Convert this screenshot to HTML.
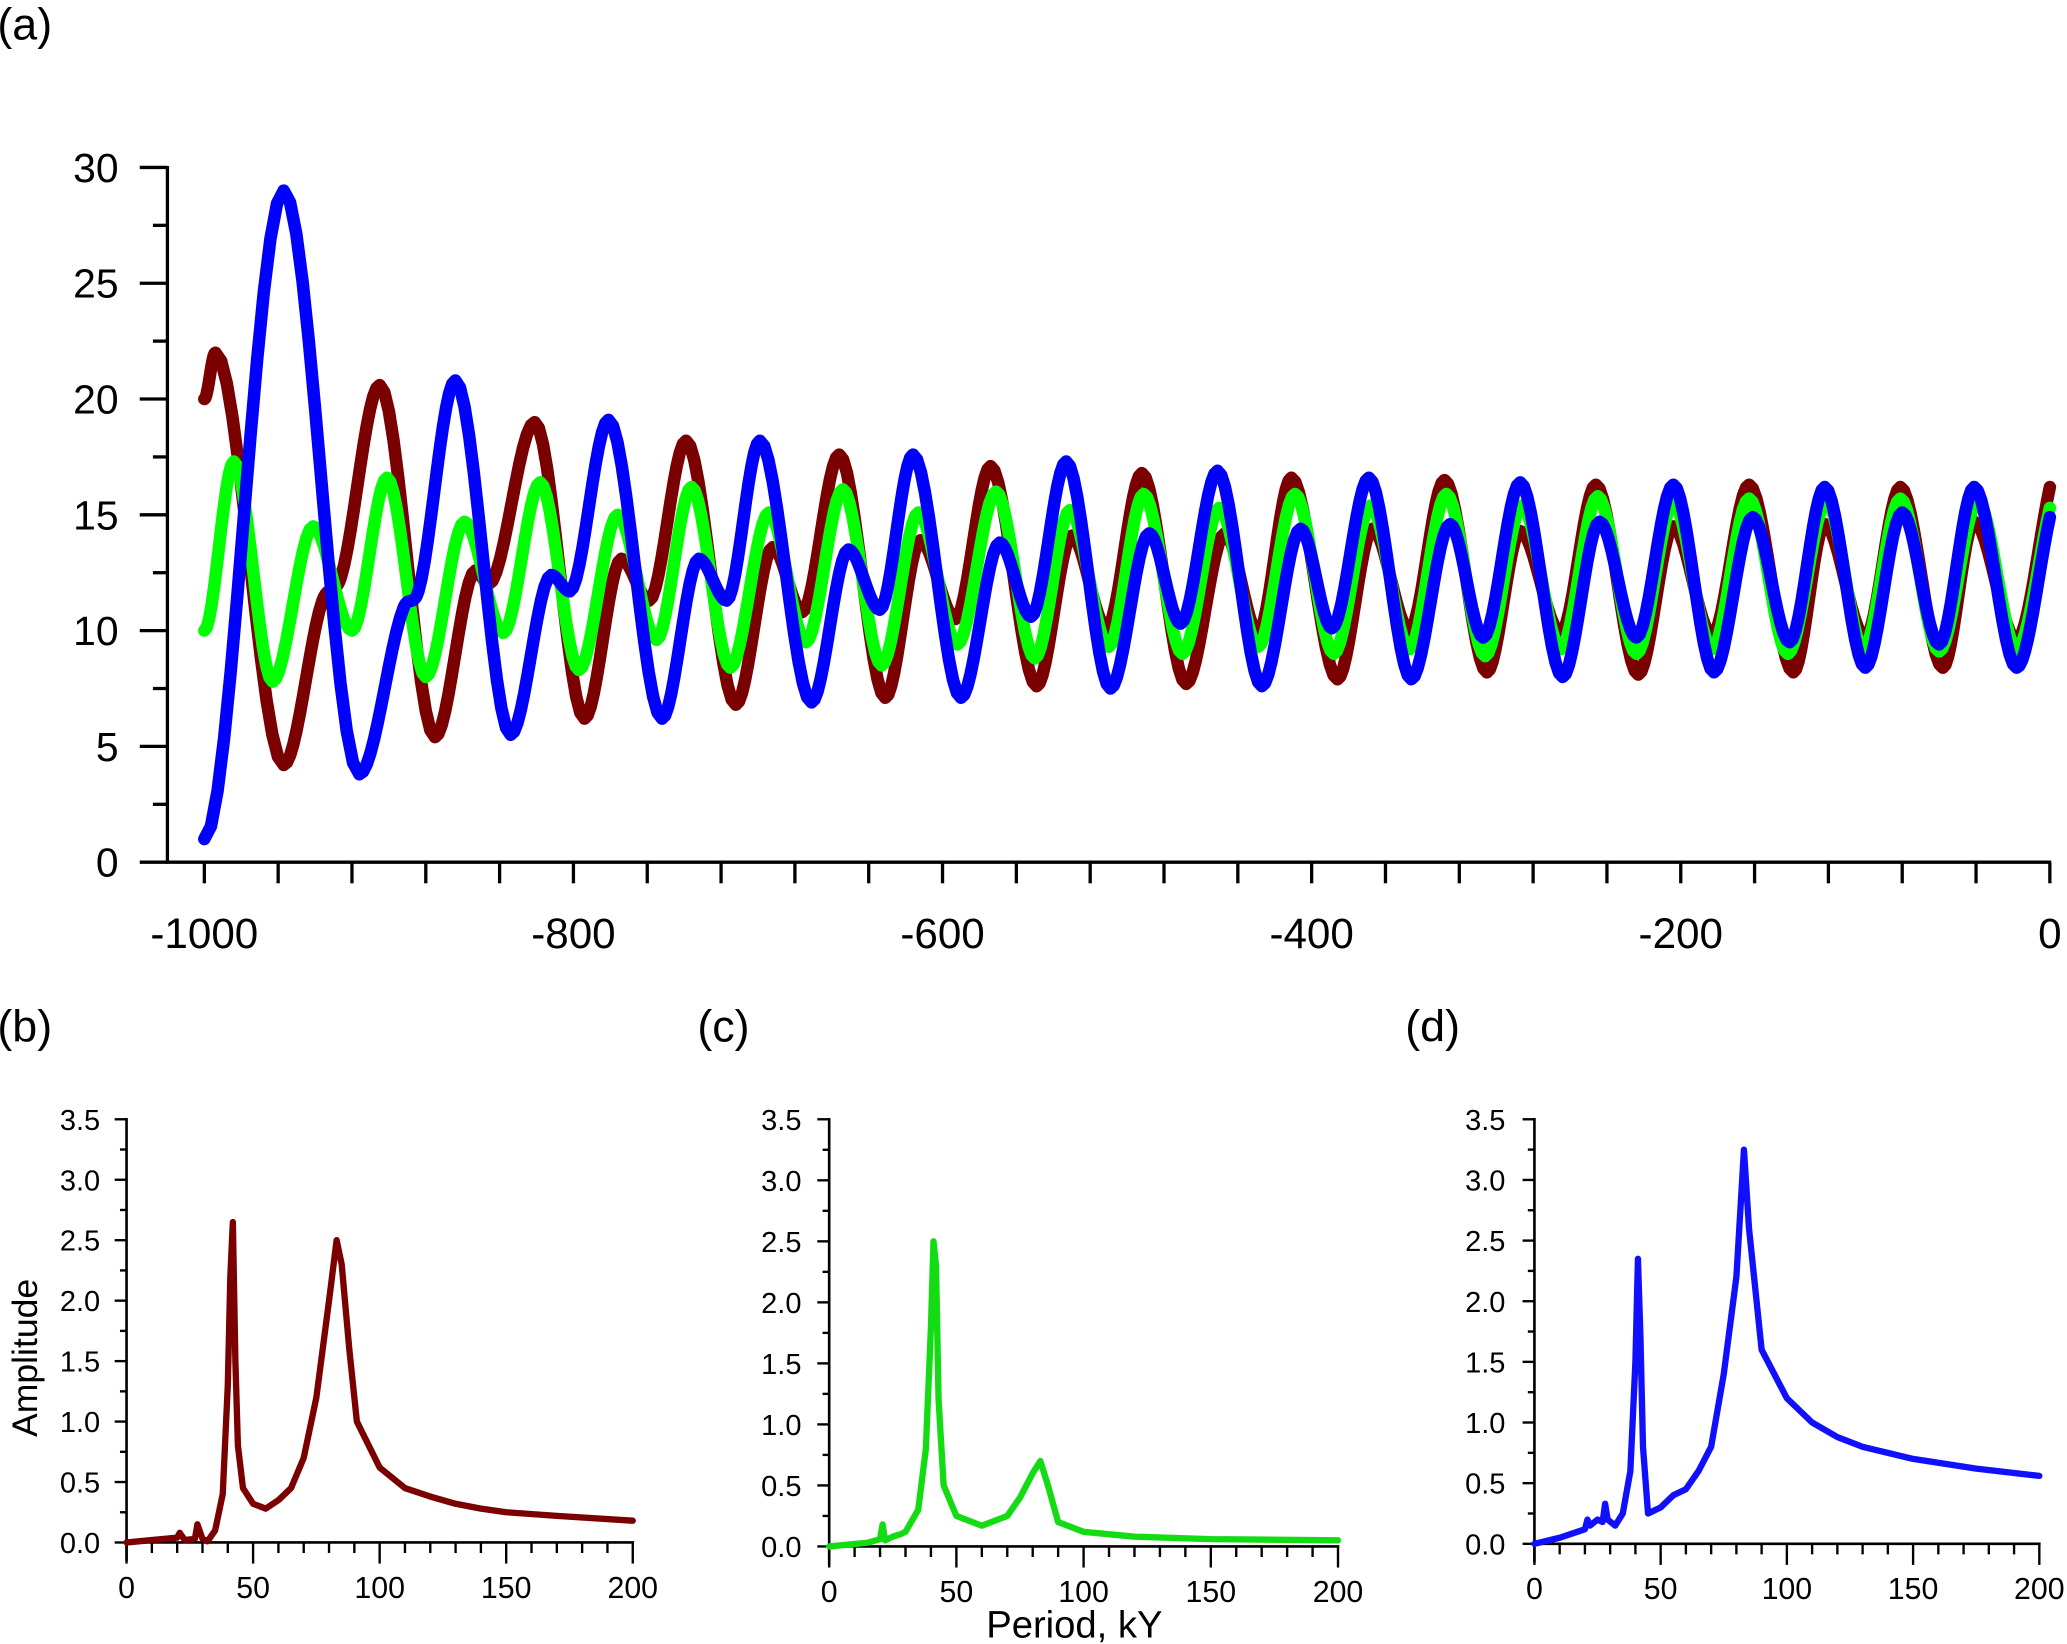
<!DOCTYPE html>
<html><head><meta charset="utf-8">
<style>
html,body{margin:0;padding:0;background:#fff;}
svg{display:block;}
text{font-family:"Liberation Sans",Arial,sans-serif;fill:#000;}
</style></head>
<body>
<svg id="fig" width="2067" height="1644" viewBox="0 0 1568 1247" preserveAspectRatio="none" xmlns="http://www.w3.org/2000/svg">
<text x="-2" y="30" font-size="34">(a)</text>
<text x="-2" y="790" font-size="34">(b)</text>
<text x="529" y="790" font-size="34">(c)</text>
<text x="1066" y="790" font-size="34">(d)</text>
<text transform="translate(28,1030) rotate(-90)" text-anchor="middle" font-size="27">Amplitude</text>
<text x="815" y="1242" text-anchor="middle" font-size="29">Period, kY</text>
<g id="ga"></g>
<g id="gb"></g>
<g id="gc"></g>
<g id="gd"></g>
</svg>
<script>
// ---- Panel (a) data: extrema/shape points (time kY, value) ----
const redT = [-1000,-994,-957,-936,-926,-905,-875,-853,-846,-821,-794,-774,-759,-739,-712,-692,-676,-656,-631,-612,-593,-574,-549,-530,-511,-492,-468,-447,-429,-411,-386,-367,-347,-328,-305,-287,-265,-246,-223,-204,-183,-163,-139,-122,-100,-81,-58,-41,-18,0];
const redV = [20,22,4.2,11.3,12.3,20.6,5.4,12.6,12.0,19,6.2,13.1,11.3,18.2,6.8,13.6,10.8,17.6,7.1,13.9,10.5,17.1,7.6,14.1,10.1,16.8,7.7,14.2,9.9,16.6,7.9,14.4,10.0,16.5,8.2,14.3,9.9,16.3,8.1,14.5,9.8,16.3,8.2,14.6,9.7,16.2,8.4,14.7,9.6,16.2];
const greenT = [-1000,-984,-963,-941,-920,-901,-880,-859,-838,-818,-797,-776,-755,-736,-715,-694,-674,-654,-633,-613,-592,-571,-550,-531,-510,-491,-470,-450,-429,-409,-388,-368,-347,-327,-306,-286,-265,-245,-224,-204,-183,-163,-142,-121,-101,-81,-60,-39,-18,0];
const greenV = [10,17.3,7.8,14.5,10.0,16.6,8.0,14.7,9.9,16.4,8.3,15.0,9.6,16.2,8.4,15.1,9.5,16.1,8.5,15.1,9.4,16.0,8.8,15.2,9.3,15.9,9.0,15.3,9.3,15.9,9.0,15.4,9.2,15.9,8.9,15.4,9.2,15.8,9.0,15.5,9.2,15.7,9.0,15.6,9.2,15.7,9.1,15.6,9.2,15.3];
const blueT = [-1000,-957,-916,-892,-884,-864,-834,-812,-802,-781,-752,-732,-717,-699,-671,-651,-634,-616,-590,-569,-552,-533,-509,-488,-471,-451,-427,-406,-389,-369,-346,-325,-307,-287,-264,-244,-224,-204,-182,-161,-141,-122,-100,-80,-60,-41,-18,0];
const blueV = [1,29,3.8,11.0,11.7,20.8,5.5,12.4,11.7,19.1,6.2,13.1,11.3,18.2,6.9,13.5,10.9,17.6,7.1,13.8,10.6,17.3,7.5,14.2,10.3,16.9,7.6,14.4,10.1,16.6,7.9,14.6,9.7,16.4,8.0,14.7,9.7,16.3,8.2,14.9,9.5,16.2,8.4,15.1,9.4,16.2,8.4,14.9];
const aYTicks = [0,5,10,15,20,25,30];
const aXTicks = [-1000,-800,-600,-400,-200,0];
const aXLabels = ["-1000","-800","-600","-400","-200","0"];

// ---- Spectra data (period kY, amplitude) ----
const specBX = [0,10,20,21,23,27,28,30,32,35,38,40,41,42,43,44,46,50,55,60,65,70,75,80,83,85,88,91,100,110,120,130,140,150,170,200];
const specBY = [0,0.02,0.04,0.08,0.02,0.03,0.15,0.03,0.01,0.1,0.4,1.3,2.2,2.65,1.5,0.8,0.45,0.32,0.28,0.35,0.45,0.7,1.2,2.0,2.5,2.3,1.6,1.0,0.62,0.45,0.38,0.32,0.28,0.25,0.22,0.18];
const specCX = [0,15,20,21,22,25,28,30,35,38,40,41,42,43,45,50,60,70,75,80,83,86,90,100,120,150,200];
const specCY = [0,0.03,0.06,0.18,0.05,0.08,0.1,0.12,0.3,0.8,1.8,2.5,2.3,1.2,0.5,0.25,0.17,0.25,0.4,0.6,0.7,0.5,0.2,0.12,0.08,0.06,0.05];
const specDX = [0,10,20,21,22,25,27,28,29,32,35,38,40,41,42,43,45,50,55,60,65,70,75,80,83,85,90,100,110,120,130,150,175,200];
const specDY = [0,0.05,0.12,0.2,0.15,0.2,0.18,0.33,0.2,0.15,0.25,0.6,1.5,2.35,1.7,0.8,0.25,0.3,0.4,0.45,0.6,0.8,1.4,2.2,3.25,2.6,1.6,1.2,1.0,0.88,0.8,0.7,0.62,0.56];
const sYTicks = [0,0.5,1,1.5,2,2.5,3,3.5];
const sYLabels = ["0.0","0.5","1.0","1.5","2.0","2.5","3.0","3.5"];
const sXTicks = [0,50,100,150,200];

const NS = "http://www.w3.org/2000/svg";
function mk(parent, tag, attrs){const e=document.createElementNS(NS,tag);for(const k in attrs)e.setAttribute(k,attrs[k]);parent.appendChild(e);return e;}

function monotone(xs, ys, sx, sy, steps){
  const n=xs.length, d=[], m=new Array(n);
  for(let i=0;i<n-1;i++) d.push((ys[i+1]-ys[i])/(xs[i+1]-xs[i]));
  m[0]=d[0]; m[n-1]=d[n-2];
  for(let i=1;i<n-1;i++){ if(d[i-1]*d[i]<=0) m[i]=0; else { m[i]=(d[i-1]+d[i])/2; const a=m[i]/d[i-1], b=m[i]/d[i], s=a*a+b*b; if(s>9){const t=3/Math.sqrt(s); m[i]=t*a*d[i-1];} } }
  if(d[0]*m[1]<=0) m[0]=0;
  let p="";
  for(let i=0;i<n-1;i++){
    const h=xs[i+1]-xs[i];
    for(let k=0;k<steps;k++){
      const t=k/steps, t2=t*t, t3=t2*t;
      const v=(2*t3-3*t2+1)*ys[i]+(t3-2*t2+t)*h*m[i]+(-2*t3+3*t2)*ys[i+1]+(t3-t2)*h*m[i+1];
      const x=xs[i]+t*h;
      p+=(p?"L":"M")+sx(x).toFixed(2)+","+sy(v).toFixed(2);
    }
  }
  p+="L"+sx(xs[n-1]).toFixed(2)+","+sy(ys[n-1]).toFixed(2);
  return p;
}

const ga=document.getElementById('ga');
const ax=t=>155+(t+1000)*1.4;
const ay=v=>654-v*(527/30);
let e;
e=mk(ga,'line',{x1:127,y1:126,x2:127,y2:655,stroke:'#000','stroke-width':2.5});
 
e=mk(ga,'line',{x1:126,y1:654,x2:1556,y2:654,stroke:'#000','stroke-width':2.5});
 
for(let v=0;v<=30;v+=2.5){
  const major = v%5===0;
  e=mk(ga,'line',{x1:major?106:116,y1:ay(v),x2:127,y2:ay(v),stroke:'#000','stroke-width':2.5});
   
}
aYTicks.forEach(v=>{
  e=mk(ga,'text',{x:90,y:ay(v)+11,'text-anchor':'end','font-size':31}); e.textContent=String(v);
   
});
for(let t=-1000;t<=0;t+=40){
  e=mk(ga,'line',{x1:ax(t),y1:654,x2:ax(t),y2:670,stroke:'#000','stroke-width':2.5});
   
}
aXTicks.forEach((t,i)=>{
  e=mk(ga,'text',{x:ax(t),y:719,'text-anchor':'middle','font-size':32}); e.textContent=aXLabels[i];
   
});
e=mk(ga,'path',{d:monotone(redT,redV,ax,ay,12),fill:'none',stroke:'#7b0000','stroke-width':9.5,'stroke-linejoin':'round','stroke-linecap':'round'});
 
e=mk(ga,'path',{d:monotone(greenT,greenV,ax,ay,12),fill:'none',stroke:'#00ff00','stroke-width':9.5,'stroke-linejoin':'round','stroke-linecap':'round'});
 
e=mk(ga,'path',{d:monotone(blueT,blueV,ax,ay,12),fill:'none',stroke:'#0000ff','stroke-width':9.5,'stroke-linejoin':'round','stroke-linecap':'round'});
 

function spectrum(id, x0, x1, yb, lblX, xs, ys, color){
  const g=document.getElementById(id);
  const sx=p=>x0+p*(x1-x0)/200;
  const sy=a=>yb-a*(yb-849)/3.5;
  let e;
  e=mk(g,'line',{x1:x0,y1:848,x2:x0,y2:yb+14,stroke:'#000','stroke-width':2});
   
  e=mk(g,'line',{x1:x0,y1:yb,x2:x1+1,y2:yb,stroke:'#000','stroke-width':2});
   
  for(let a=0;a<=3.5001;a+=0.25){
    const major=Math.abs(a*2-Math.round(a*2))<1e-6;
    e=mk(g,'line',{x1:major?x0-9:x0-5,y1:sy(a),x2:x0,y2:sy(a),stroke:'#000','stroke-width':1.8});
     
  }
  sYTicks.forEach((a,i)=>{
    e=mk(g,'text',{x:lblX,y:sy(a)+8,'text-anchor':'end','font-size':22}); e.textContent=sYLabels[i];
     
  });
  for(let p=0;p<=200;p+=10){
    const major=p%50===0;
    e=mk(g,'line',{x1:sx(p),y1:yb,x2:sx(p),y2:yb+(major?16:8),stroke:'#000','stroke-width':1.8});
     
  }
  sXTicks.forEach(p=>{
    e=mk(g,'text',{x:sx(p),y:yb+42,'text-anchor':'middle','font-size':23}); e.textContent=String(p);
     
  });
  let d="";
  xs.forEach((p,i)=>{d+=(i?"L":"M")+sx(p).toFixed(2)+","+sy(ys[i]).toFixed(2);});
  e=mk(g,'path',{d:d,fill:'none',stroke:color,'stroke-width':4.8,'stroke-linejoin':'round','stroke-linecap':'round'});
   
}
spectrum('gb',96,480,1170,76,specBX,specBY,'#7b0000');
spectrum('gc',629,1015,1173,608,specCX,specCY,'#14dc14');
spectrum('gd',1164,1547,1171,1142,specDX,specDY,'#1010ff');
</script>
</body></html>
